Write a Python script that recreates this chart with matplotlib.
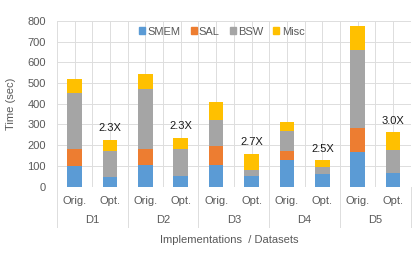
import numpy as np
import matplotlib.pyplot as plt
from matplotlib.patches import Patch

plt.rcParams["font.family"] = ["Liberation Sans", "DejaVu Sans"]

datasets = ["D1", "D2", "D3", "D4", "D5"]
impls = ["Orig.", "Opt."]
components = ["SMEM", "SAL", "BSW", "Misc"]
colors = ["#5B9BD5", "#ED7D31", "#A5A5A5", "#FFC000"]

# one entry per bar: Orig., Opt. for each dataset
smem = [100, 48, 102, 53, 105, 52, 129, 61, 168, 66]
sal = [79, 0, 80, 0, 93, 0, 45, 0, 113, 0]
bsw = [273, 126, 291, 126, 121, 30, 92, 31, 380, 111]
misc = [67, 52, 72, 55, 91, 73, 47, 34, 112, 84]
speedups = ["2.3X", "2.3X", "2.7X", "2.5X", "3.0X"]

grey = "#595959"
gridc = "#DDDDDD"
fs = 8

fig = plt.figure(figsize=(4.15, 2.58), dpi=100)
ax = fig.add_axes([0.137, 0.277, 0.853, 0.642])

x = np.arange(len(smem)) + 0.5
bottom = np.zeros(len(smem))
for vals, c in zip([smem, sal, bsw, misc], colors):
    ax.bar(x, vals, 0.415, bottom=bottom, color=c, zorder=2)
    bottom += np.array(vals)

# speedup labels over the Opt. bars
for i, s in enumerate(speedups):
    ax.annotate(s, (x[2 * i + 1], bottom[2 * i + 1]), xytext=(0, 5),
                textcoords="offset points", ha="center", va="bottom",
                fontsize=fs, color="#1a1a1a")

ax.set_xlim(0, 10)
ax.set_ylim(0, 800)
ax.set_yticks(np.arange(0, 801, 100))
ax.yaxis.grid(True, color=gridc, lw=0.7)
for v in np.arange(0, 10.01, 0.5):
    ax.axvline(v, color=gridc, lw=0.7, zorder=0)
ax.set_axisbelow(True)
for sp in ax.spines.values():
    sp.set_visible(False)

ax.set_xticks(x)
ax.set_xticklabels(impls * len(datasets))
ax.tick_params(axis="both", length=0, labelsize=fs, colors=grey)
ax.tick_params(axis="x", pad=7)
ax.tick_params(axis="y", pad=8)

# dataset group labels and separators below the axis
for i, d in enumerate(datasets):
    ax.text(2 * i + 1, -0.205, d, transform=ax.get_xaxis_transform(),
            ha="center", va="center", fontsize=fs, color=grey)
for v in range(0, 11, 2):
    ax.plot([v, v], [0, -0.245], transform=ax.get_xaxis_transform(),
            color=gridc, lw=0.7, clip_on=False)

ax.set_ylabel("Time (sec)", fontsize=fs, color=grey)
ax.yaxis.set_label_coords(-0.116, 0.5)
ax.text(0.486, -0.322, "Implementations  / Datasets", transform=ax.transAxes,
        ha="center", va="center", fontsize=fs, color=grey)

handles = [Patch(color=c, label=l) for c, l in zip(colors, components)]
ax.legend(handles=handles, loc="center", bbox_to_anchor=(0.466, 0.935), ncol=4,
          frameon=False, fontsize=fs, labelcolor=grey, handlelength=0.55,
          handleheight=0.55, handletextpad=0.2, columnspacing=0.9,
          borderpad=0.2)

fig.savefig("out.png", dpi=100)
